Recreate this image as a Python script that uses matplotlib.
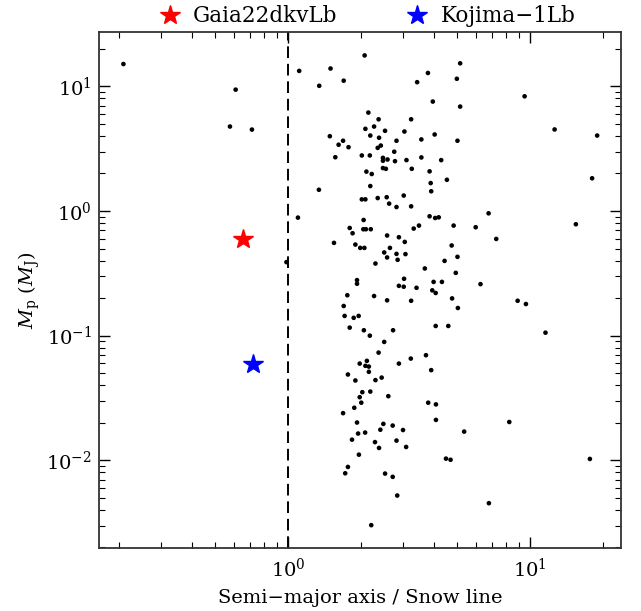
import numpy as np
import matplotlib as mpl
mpl.use('agg')
import matplotlib.pyplot as plt

mpl.rcParams['font.family'] = ['DejaVu Serif']
mpl.rcParams['mathtext.fontset'] = 'dejavuserif'

# known planets: semi-major axis / snow line, mass (M_J)
a_snow = [0.209, 0.608, 0.576, 0.710, 1.113, 1.347, 1.343, 1.10, 0.986,
          2.075, 5.15, 1.50, 3.79, 1.70, 3.42, 4.99, 3.97, 5.15, 2.15,
          2.37, 3.23, 2.09, 2.27, 2.52, 3.03, 1.49, 2.19, 2.38, 3.56,
          4.04, 5.02, 1.69, 1.62, 2.81, 1.78, 2.42, 2.35, 2.75, 1.57,
          2.02, 2.18, 2.47, 2.47, 2.58, 2.77, 3.09, 3.56, 4.30, 2.47,
          2.54, 3.25, 3.85, 2.11, 2.22, 4.54, 3.89, 2.19, 3.91, 3.01,
          2.02, 2.09, 2.35, 2.56, 2.62, 2.81, 3.23, 2.055, 3.85, 4.06,
          4.20, 1.80, 2.05, 2.10, 2.20, 3.31, 3.48, 4.84, 5.97,
          1.85, 2.57, 2.875, 3.04, 1.55, 1.90, 1.99, 2.07, 2.64, 4.75,
          2.50, 2.81, 3.06, 2.57, 2.84, 5.02, 4.44, 2.30, 3.68, 4.94,
          1.93, 1.93, 3.02, 2.875, 3.01, 3.40, 4.00, 4.33, 6.25, 3.95,
          4.08, 1.76, 2.27, 2.57, 3.23, 4.77, 1.70, 5.04, 1.715, 1.87,
          1.96, 1.80, 2.06, 2.18, 2.72, 4.08, 4.60, 2.50, 2.37, 3.72,
          3.22, 1.98, 2.12, 2.09, 2.16, 2.16, 2.875, 3.91, 1.77, 1.90,
          2.30, 2.44, 2.03, 2.19, 1.98, 2.60,
          2.01, 1.88, 1.69, 3.80, 4.09, 4.09, 1.93, 2.48, 2.71, 2.41,
          2.99, 1.95, 2.085, 5.35, 1.84, 2.29, 2.81, 2.38, 3.08, 1.965,
          4.50, 4.70, 1.77, 1.725, 2.52, 2.71, 2.83, 2.21,
          9.51, 12.65, 18.97, 18.08, 6.75, 15.49, 7.26,
          8.90, 9.63, 11.6, 8.22, 17.7, 6.77]
m_planet = [15.1, 9.41, 4.76, 4.5, 13.3, 10.1, 1.48, 0.885, 0.389,
            17.7, 15.3, 13.9, 12.8, 11.1, 10.8, 11.5, 7.55, 6.88, 6.16,
            5.44, 5.44, 4.56, 4.76, 4.40, 4.34, 3.98, 4.03, 3.87, 3.75,
            4.11, 3.66, 3.66, 3.40, 3.66, 3.25, 3.35, 3.21, 2.99, 2.70,
            2.79, 2.79, 2.67, 2.53, 2.59, 2.51, 2.56, 2.69, 2.56, 2.21,
            2.18, 2.18, 2.08, 2.07, 1.98, 1.78, 1.675, 1.585, 1.44, 1.33,
            1.24, 1.24, 1.27, 1.29, 1.146, 1.076, 1.09, 0.847, 0.907, 0.879,
            0.890, 0.731, 0.714, 0.714, 0.714, 0.723, 0.764, 0.764, 0.741,
            0.663, 0.636, 0.616, 0.565, 0.555, 0.538, 0.506, 0.506, 0.506, 0.529,
            0.465, 0.453, 0.451, 0.424, 0.406, 0.429, 0.398, 0.379, 0.346, 0.319,
            0.279, 0.261, 0.286, 0.251, 0.247, 0.242, 0.270, 0.270, 0.259, 0.231,
            0.220, 0.211, 0.208, 0.192, 0.1905, 0.199, 0.173, 0.1667, 0.144, 0.139,
            0.144, 0.116, 0.1105, 0.100, 0.1105, 0.1196, 0.1196, 0.0891, 0.0731, 0.0697,
            0.0655, 0.0597, 0.0628, 0.0573, 0.0565, 0.0513, 0.0597, 0.0529, 0.0488, 0.0437,
            0.0440, 0.0461, 0.0352, 0.0356, 0.0321, 0.0327,
            0.0290, 0.0264, 0.0239, 0.0290, 0.0281, 0.0211, 0.0201, 0.0196, 0.0190, 0.0176,
            0.0175, 0.0164, 0.0167, 0.0170, 0.01465, 0.0140, 0.0144, 0.01257, 0.0128, 0.0111,
            0.01032, 0.0101, 0.00885, 0.00787, 0.00783, 0.00737, 0.00522, 0.00302,
            8.32, 4.51, 4.03, 1.83, 0.958, 0.783, 0.597,
            0.1905, 0.1794, 0.1057, 0.0203, 0.01026, 0.00453]

# the two new planets
names = ['Gaia22dkvLb', 'Kojima\u22121Lb']
star_a = [0.652, 0.715]
star_m = [0.594, 0.0594]
star_c = ['red', 'blue']

fig = plt.figure(figsize=(6.41, 6.11), dpi=100)
ax = fig.add_axes([0.1544, 0.1031, 0.8144, 0.8449])

ax.scatter(a_snow, m_planet, s=11, c='k', edgecolors='none', zorder=2)
for n, xa, ym, c in zip(names, star_a, star_m, star_c):
    ax.plot(xa, ym, marker='*', ms=15, color=c, ls='none', label=n, zorder=3)

ax.axvline(1.0, color='k', lw=1.4, dashes=(6, 3), zorder=1)

ax.set_xscale('log')
ax.set_yscale('log')
ax.set_xlim(0.1656, 23.8)
ax.set_ylim(0.00198, 27.4)

ax.tick_params(which='both', direction='in', top=True, right=True,
               labelsize=14)
ax.tick_params(which='major', length=8, width=1.0, pad=7)
ax.tick_params(which='minor', length=4, width=0.8)
ax.tick_params(axis='y', which='major', pad=5)
for sp in ax.spines.values():
    sp.set_linewidth(1.3)
    sp.set_color('#333333')

ax.set_xlabel('Semi\u2212major axis / Snow line', fontsize=14, labelpad=6)
ax.set_ylabel(r'$M_{\rm p}$ $(M_{\rm J})$', fontsize=14, labelpad=3)

ax.legend(loc='lower center', bbox_to_anchor=(0.51, 0.992), ncol=2,
          frameon=False, fontsize=15.5, handlelength=1.4, handletextpad=0.4,
          columnspacing=3.0, borderaxespad=0.0, numpoints=1)

plt.savefig('out.png', dpi=100)
